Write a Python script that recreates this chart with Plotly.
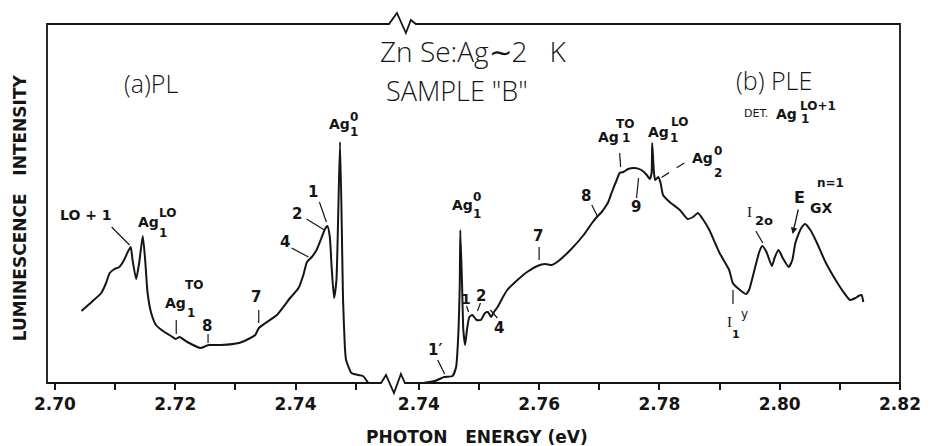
import plotly.graph_objects as go

# ---------------- data ----------------
# (a) PL spectrum, photon energy in eV vs luminescence intensity (arb. units)
pl_energy = [2.7044, 2.7061, 2.7077, 2.7085, 2.7091, 2.7099, 2.7107, 2.7115, 2.7121, 2.7126,
             2.7129, 2.7135, 2.7140, 2.7146, 2.7150, 2.7154, 2.7160, 2.7168, 2.7182, 2.7193,
             2.7201, 2.7207, 2.7220, 2.7242, 2.7251, 2.7256, 2.7276, 2.7306, 2.7325, 2.7333,
             2.7339, 2.7350, 2.7369, 2.7391, 2.7405, 2.7413, 2.7419, 2.7427, 2.7435, 2.7443,
             2.7449, 2.7453, 2.7457, 2.7460, 2.7464, 2.7468, 2.7474, 2.7479, 2.7482, 2.7484,
             2.7493, 2.7504, 2.7512, 2.7521]
pl_intensity = [72, 81, 90, 100, 110, 114, 116, 123, 131, 136,
                123, 104, 120, 147, 123, 90, 70, 58, 51, 47,
                44, 46, 41, 35, 37, 38, 38, 40, 45, 48,
                55, 60, 68, 85, 95, 108, 121, 126, 133, 145,
                154, 157, 146, 116, 85, 103, 241, 83, 36, 23,
                10, 8, 7, 0]

# (b) PLE spectrum
ple_energy = [2.7407, 2.7427, 2.7442, 2.7456, 2.7462, 2.7466, 2.7468, 2.7469, 2.7472, 2.7474,
              2.7477, 2.7480, 2.7484, 2.7489, 2.7496, 2.7503, 2.7510, 2.7515, 2.7520, 2.7525,
              2.7531, 2.7539, 2.7547, 2.7564, 2.7580, 2.7597, 2.7610, 2.7621, 2.7630, 2.7652,
              2.7674, 2.7688, 2.7696, 2.7704, 2.7710, 2.7715, 2.7721, 2.7729, 2.7734, 2.7740,
              2.7748, 2.7759, 2.7770, 2.7779, 2.7784, 2.7787, 2.7788, 2.7791, 2.7793, 2.7798,
              2.7802, 2.7806, 2.7817, 2.7834, 2.7847, 2.7856, 2.7864, 2.7872, 2.7883, 2.7894,
              2.7900, 2.7916, 2.7922, 2.7930, 2.7944, 2.7949, 2.7958, 2.7966, 2.7971, 2.7978,
              2.7987, 2.7992, 2.7998, 2.8005, 2.8015, 2.8021, 2.8026, 2.8035, 2.8042, 2.8051,
              2.8062, 2.8076, 2.8093, 2.8106, 2.8117, 2.8126, 2.8131, 2.8136, 2.8139]
ple_intensity = [0, 2, 6, 7, 16, 53, 96, 153, 96, 53,
                 38, 53, 66, 68, 63, 63, 70, 71, 66, 71,
                 76, 85, 93, 103, 111, 117, 119, 118, 121, 133,
                 148, 160, 166, 171, 176, 181, 191, 203, 210, 211,
                 214, 215, 213, 208, 204, 210, 240, 210, 203, 206,
                 200, 188, 181, 173, 164, 166, 170, 164, 153, 138,
                 130, 113, 100, 95, 89, 93, 113, 131, 137, 131,
                 117, 126, 133, 125, 116, 123, 140, 154, 159, 153,
                 140, 121, 103, 91, 83, 85, 87, 88, 81]

left_tickvals = [2.70, 2.71, 2.72, 2.73, 2.74, 2.75]
left_ticktext = ["2.70", "", "2.72", "", "2.74", ""]
right_tickvals = [2.74, 2.75, 2.76, 2.77, 2.78, 2.79, 2.80, 2.81, 2.82]
right_ticktext = ["2.74", "", "2.76", "", "2.78", "", "2.80", "", "2.82"]

# ---------------- geometry ----------------
W, H = 933, 446
L, R, T, B = 47, 905, 24, 383        # plot area in pixels
PX_PER_EV = 6050.0
BRK = 397                            # pixel of axis break
X_LEFT_REF, E_LEFT_REF = 55, 2.70    # pixel of 2.70 on left scale
X_RIGHT_REF, E_RIGHT_REF = 542, 2.76 # pixel of 2.76 on right scale

left_range = [E_LEFT_REF - (X_LEFT_REF - L) / PX_PER_EV, E_LEFT_REF + (BRK - X_LEFT_REF) / PX_PER_EV]
right_range = [E_RIGHT_REF - (X_RIGHT_REF - BRK) / PX_PER_EV, E_RIGHT_REF + (R - X_RIGHT_REF) / PX_PER_EV]
d1 = (BRK - L) / (R - L)


def px(x):
    return (x - L) / (R - L)


def py(y):
    return (B - y) / (B - T)


INK = "#151515"
LABEL_FONT = "DejaVu Sans"

fig = go.Figure()
for xs, ys, xa in ((pl_energy, pl_intensity, "x"), (ple_energy, ple_intensity, "x2")):
    fig.add_trace(go.Scatter(x=xs, y=ys, mode="lines", xaxis=xa, yaxis="y",
                             line=dict(color=INK, width=2, shape="spline", smoothing=0.5),
                             hoverinfo="skip", showlegend=False))

axis_common = dict(showgrid=False, zeroline=False, showline=False, ticks="outside", ticklen=6,
                   tickwidth=1.5, tickcolor=INK, anchor="y",
                   tickfont=dict(family=LABEL_FONT, size=17, color=INK, weight="bold"))
fig.update_layout(
    width=W, height=H, autosize=False,
    margin=dict(l=L, r=W - R, t=T, b=H - B, pad=0),
    paper_bgcolor="white", plot_bgcolor="white",
    xaxis=dict(domain=[0, d1], range=left_range, tickvals=left_tickvals, ticktext=left_ticktext,
               **axis_common),
    xaxis2=dict(domain=[d1, 1], range=right_range, tickvals=right_tickvals, ticktext=right_ticktext,
                **axis_common),
    yaxis=dict(range=[0, B - T], showgrid=False, zeroline=False, showline=False,
               showticklabels=False, ticks=""),
)

# ---------------- frame with break marks ----------------
top = [(L, T), (391, T), (399, 13), (408, 33), (413, 20), (418, T), (R, T)]
bottom = [(R, B), (407, B), (403, 374), (396, 393), (388, 375), (383, B), (L, B)]
pts = top + bottom
path = "M " + " L ".join(f"{px(x):.5f},{py(y):.5f}" for x, y in pts) + " Z"
fig.add_shape(type="path", xref="paper", yref="paper", path=path,
              line=dict(color=INK, width=1.8), fillcolor="rgba(0,0,0,0)")

annotations = []


def txt(x, y, s, size=15, bold=True, family=LABEL_FONT, xanchor="center", textangle=0, weight=None):
    w = weight if weight is not None else ("bold" if bold else "normal")
    annotations.append(dict(x=px(x), y=py(y), xref="paper", yref="paper", text=s, showarrow=False,
                            xanchor=xanchor, yanchor="middle", textangle=textangle, borderpad=0,
                            font=dict(family=family, size=size, color=INK, weight=w)))


def seg(x0, y0, x1, y1, width=1.2, dash="solid"):
    fig.add_shape(type="line", xref="paper", yref="paper", x0=px(x0), y0=py(y0), x1=px(x1), y1=py(y1),
                  line=dict(color=INK, width=width, dash=dash))


def ag(xr, y, sup, sub, x_sup, y_sup, x_sub, y_sub, size=14, sub_size=12, main="Ag"):
    txt(xr, y, main, size=size, xanchor="right")
    txt(x_sup - 3, y_sup, sup, size=sub_size, xanchor="left")
    txt(x_sub - 3, y_sub, sub, size=sub_size, xanchor="left")


# titles
txt(475, 51, "Zn Se:Ag\u223c2   K", size=28, family="Open Sans", weight=300)
txt(459, 91, "SAMPLE \"B\"", size=27, family="Open Sans", weight=300)
txt(152, 83, "(a)PL", size=25, family="Open Sans", weight=300)
txt(778, 80, "(b) PLE", size=25, family="Open Sans", weight=300)

# axis titles
txt(20, 208, "LUMINESCENCE   INTENSITY", size=17, textangle=-90)
txt(480, 437, "PHOTON   ENERGY (eV)", size=17)

# DET. label
txt(760, 113, "DET.", size=11, bold=False)
ag(802, 114, "LO+1", "1", 806, 106, 807, 119, size=14, sub_size=12)

# PL labels
txt(86, 215, "LO + 1", size=14)
seg(112, 227, 130, 245)
ag(161, 222, "LO", "1", 162, 213, 162, 233)
ag(188, 303, "TO", "1", 188, 285, 190, 313)
seg(177, 320, 177, 334)
txt(208, 326, "8", size=15)
seg(209, 334, 209, 343)
txt(257, 297, "7", size=15)
seg(260, 310, 260, 323)
txt(286, 242, "4", size=15)
seg(293, 248, 310, 257)
txt(298, 214, "2", size=15)
seg(308, 219, 326, 230)
txt(315, 192, "1", size=15)
seg(321, 202, 328, 222)
ag(353, 124, "0", "1", 354, 117, 354, 132)

# PLE labels
txt(437, 350, "1\u2032", size=15)
seg(440, 360, 447, 374)
ag(476, 205, "0", "1", 477, 197, 477, 214)
txt(468, 299, "1", size=14)
seg(469, 306, 471, 312)
txt(484, 296, "2", size=15)
seg(483, 303, 480, 311)
txt(502, 328, "4", size=15)
seg(493, 310, 500, 318)
txt(541, 236, "7", size=15)
seg(542, 247, 542, 260)
txt(589, 196, "8", size=15)
seg(595, 205, 601, 217)
ag(623, 137, "TO", "1", 621, 124, 627, 138)
seg(623, 153, 624, 167)
txt(639, 207, "9", size=15)
seg(642, 178, 640, 198)
ag(674, 132, "LO", "1", 677, 122, 676, 138)
ag(718, 158, "0", "2", 720, 151, 720, 173)
seg(688, 163, 661, 180, width=1.2, dash="dash")
txt(733, 322, "I", size=15, bold=False, family="Liberation Serif")
txt(740, 334, "1", size=11)
txt(749, 314, "y", size=12, bold=False)
seg(737, 290, 737, 304)
txt(754, 212, "I", size=15, bold=False, family="Liberation Serif")
txt(768, 221, "2o", size=13)
seg(760, 231, 767, 243)
txt(804, 197, "E", size=16)
txt(826, 208, "GX", size=14)
txt(835, 183, "n=1", size=12)

annotations.append(dict(x=px(797), y=py(234), xref="paper", yref="paper",
                        axref="pixel", ayref="pixel", ax=6, ay=-26, text="", showarrow=True,
                        arrowhead=2, arrowsize=1, arrowwidth=1.3, arrowcolor=INK))

fig.update_layout(annotations=annotations)
fig.write_html("out.html")
